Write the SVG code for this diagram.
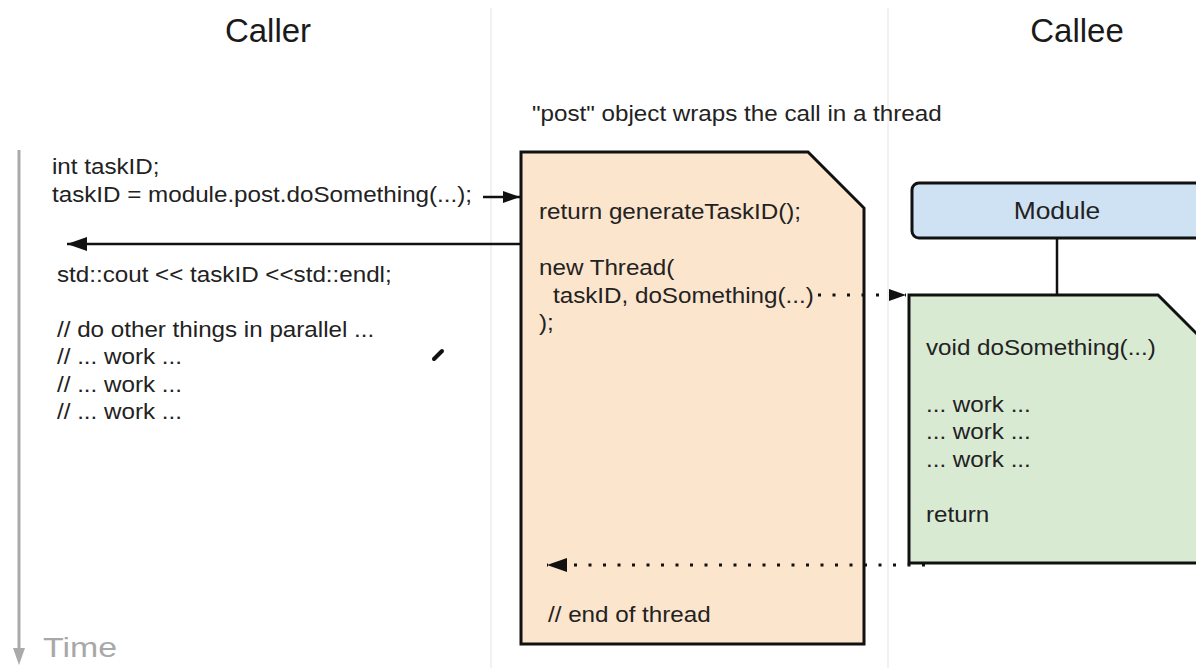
<svg xmlns="http://www.w3.org/2000/svg" width="1196" height="668" viewBox="0 0 1196 668">
<style>
text{font-family:"Liberation Sans",Arial,sans-serif;fill:#222}
.t{font-size:22px;transform-box:fill-box;transform-origin:0 50%;transform:scaleX(1.1)}
.m{font-size:24px;transform-box:fill-box;transform-origin:50% 50%;transform:scaleX(1.1)}
.h{font-size:33px;fill:#1a1a1a}
.sep{stroke:#ececec;stroke-width:1.5}
.box{stroke:#111;stroke-width:3}
.ln{stroke:#111;stroke-width:2.5;fill:none}
.dot{stroke:#111;stroke-width:3;fill:none;stroke-dasharray:3 11.5}
</style>
<defs>
<marker id="ah" viewBox="0 0 20 14" refX="20" refY="7" markerWidth="20" markerHeight="14" orient="auto" markerUnits="userSpaceOnUse">
<path d="M0,0L20,7L0,14z" fill="#111"/>
</marker>
<marker id="ahs" viewBox="0 0 17 12" refX="17" refY="6" markerWidth="17" markerHeight="12" orient="auto" markerUnits="userSpaceOnUse">
<path d="M0,0L17,6L0,12z" fill="#111"/>
</marker>
</defs>
<rect width="1196" height="668" fill="#fff"/>
<g id="separators">
<line class="sep" x1="491" y1="8" x2="491" y2="668"/>
<line class="sep" x1="888" y1="8" x2="888" y2="668"/>
</g>
<g id="titles">
<text class="h" x="268" y="42" text-anchor="middle">Caller</text>
<text class="h" x="1077" y="42" text-anchor="middle">Callee</text>
<text class="t" x="532" y="121">"post" object wraps the call in a thread</text>
</g>
<g id="time">
<line x1="19" y1="150" x2="19" y2="652" stroke="#aaa" stroke-width="3"/>
<path d="M13,648L25,648L19,665z" fill="#aaa"/>
<text x="43" y="657" font-size="27" textLength="74" lengthAdjust="spacingAndGlyphs" style="fill:#a8a8a8">Time</text>
</g>
<g id="caller-code">
<text class="t" x="52" y="174">int taskID;</text>
<text class="t" x="52" y="202">taskID = module.post.doSomething(...);</text>
<text class="t" x="57" y="282">std::cout &lt;&lt; taskID &lt;&lt;std::endl;</text>
<text class="t" x="57" y="337">// do other things in parallel ...</text>
<text class="t" x="57" y="364">// ... work ...</text>
<text class="t" x="57" y="392">// ... work ...</text>
<text class="t" x="57" y="419">// ... work ...</text>
<line x1="434" y1="359" x2="442" y2="351" stroke="#111" stroke-width="4" stroke-linecap="round"/>
</g>
<g id="post-object">
<path class="box" d="M521,152L808,152L864,208L864,644L521,644z" fill="#fce5cd"/>
<text class="t" x="539" y="219">return generateTaskID();</text>
<text class="t" x="539" y="275">new Thread(</text>
<text class="t" x="553" y="303">taskID, doSomething(...)</text>
<text class="t" x="539" y="330">);</text>
<text class="t" x="548" y="622">// end of thread</text>
</g>
<g id="module">
<rect class="box" x="912" y="183" width="300" height="55" rx="7" fill="#cfe2f3"/>
<text class="m" x="1057" y="219" text-anchor="middle">Module</text>
</g>
<g id="do-something">
<path class="box" d="M909,295L1158,295L1200,337L1200,563L909,563z" fill="#d9ead3"/>
<text class="t" x="926" y="355">void doSomething(...)</text>
<text class="t" x="926" y="412">... work ...</text>
<text class="t" x="926" y="439">... work ...</text>
<text class="t" x="926" y="467">... work ...</text>
<text class="t" x="926" y="522">return</text>
</g>
<g id="connectors">
<line class="ln" x1="483" y1="197" x2="520" y2="197" marker-end="url(#ahs)"/>
<line class="ln" x1="520" y1="244" x2="67" y2="244" marker-end="url(#ah)"/>
<line class="ln" x1="1057" y1="238" x2="1057" y2="295"/>
<line class="dot" x1="818" y1="295" x2="906" y2="295" marker-end="url(#ahs)"/>
<line class="dot" x1="925" y1="565" x2="547" y2="565" marker-end="url(#ah)"/>
</g>
</svg>
